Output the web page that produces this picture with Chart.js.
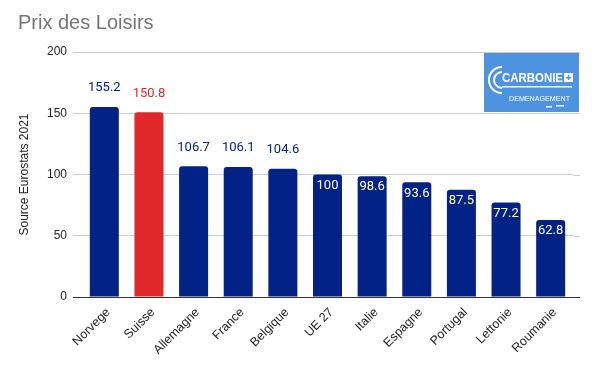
<!DOCTYPE html>
<html>
<head>
<meta charset="utf-8">
<script src="https://cdn.jsdelivr.net/npm/chart.js@4/dist/chart.umd.min.js"></script>
<style>
  html, body { margin: 0; padding: 0; background: #fff; }
  #wrap { width: 596px; height: 365px; position: relative; }
</style>
</head>
<body>
<div id="wrap"><canvas id="chart" width="596" height="365"></canvas></div>
<script>
// Data
const countries = ["Norvege", "Suisse", "Allemagne", "France", "Belgique", "UE 27", "Italie", "Espagne", "Portugal", "Lettonie", "Roumanie"];
const prices = [155.2, 150.8, 106.7, 106.1, 104.6, 100, 98.6, 93.6, 87.5, 77.2, 62.8];
const yTicks = [0, 50, 100, 150, 200];
const highlight = "Suisse";

const BLUE = "#032286";
const RED = "#e0282a";
const barColors = countries.map((c) => (c === highlight ? RED : BLUE));

// Title + logo
const decorPlugin = {
  id: "decor",
  afterDraw(chart) {
    const ctx = chart.ctx;
    ctx.save();
    ctx.fillStyle = "#757575";
    ctx.font = "20px 'Liberation Sans', Arial, sans-serif";
    ctx.textBaseline = "alphabetic";
    ctx.textAlign = "left";
    ctx.fillText("Prix des Loisirs", 18, 29);

    // logo box
    const lx = 484, ly = 53, lw = 95, lh = 59;
    ctx.fillStyle = "#4d93e0";
    ctx.fillRect(lx, ly, lw, lh);
    ctx.strokeStyle = "#fff";
    ctx.lineWidth = 2;
    ctx.beginPath();
    ctx.arc(lx + 18, ly + 27, 13, Math.PI * 0.5, Math.PI * 1.5);
    ctx.stroke();
    ctx.beginPath();
    ctx.arc(lx + 18, ly + 27, 8, Math.PI * 0.5, Math.PI * 1.5);
    ctx.stroke();
    ctx.fillStyle = "#fff";
    ctx.font = "bold 13px 'Liberation Sans', Arial, sans-serif";
    ctx.fillText("CARBONIE", lx + 18, ly + 29, 61);
    ctx.fillRect(lx + 80, ly + 20, 9, 9);
    ctx.fillStyle = "#4d93e0";
    ctx.fillRect(lx + 82, ly + 24, 5, 1.5);
    ctx.fillRect(lx + 83.8, ly + 22, 1.5, 5);
    ctx.fillStyle = "#fff";
    ctx.fillRect(lx + 18, ly + 33, 70, 1.5);
    ctx.font = "8px 'Liberation Sans', Arial, sans-serif";
    ctx.fillText("DEMENAGEMENT", lx + 25, ly + 48, 61);
    ctx.fillRect(lx + 62, ly + 53, 6, 1.5);
    ctx.fillRect(lx + 72, ly + 52, 8, 1.5);
    ctx.restore();
  },
  beforeDatasetsDraw(chart) {
    // extend gridlines slightly past the right edge
    const ctx = chart.ctx;
    const y = chart.scales.y;
    const area = chart.chartArea;
    ctx.save();
    ctx.lineWidth = 1;
    yTicks.forEach((v) => {
      const py = Math.round(y.getPixelForValue(v)) + 0.5;
      ctx.strokeStyle = v === 0 ? "#333" : "#cccccc";
      ctx.beginPath();
      ctx.moveTo(area.right, py);
      ctx.lineTo(area.right + 7, py);
      ctx.stroke();
    });
    ctx.restore();
  },
};

// Value labels
const valueLabels = {
  id: "valueLabels",
  afterDatasetsDraw(chart) {
    const ctx = chart.ctx;
    const meta = chart.getDatasetMeta(0);
    ctx.save();
    ctx.font = "13px Roboto, 'Liberation Sans', sans-serif";
    ctx.textAlign = "center";
    ctx.textBaseline = "middle";
    meta.data.forEach((bar, i) => {
      const v = prices[i];
      const txt = String(v);
      if (v > 100) {
        ctx.fillStyle = barColors[i];
        ctx.fillText(txt, bar.x, bar.y - 19);
      } else {
        ctx.fillStyle = "#ffffff";
        ctx.fillText(txt, bar.x, bar.y + 11);
      }
    });
    ctx.restore();
  },
};

const ctx = document.getElementById("chart").getContext("2d");
const chart = new Chart(ctx, {
  type: "bar",
  data: {
    labels: countries,
    datasets: [
      {
        data: prices,
        backgroundColor: barColors,
        borderRadius: 3,
        borderSkipped: "bottom",
        barPercentage: 0.65,
        categoryPercentage: 1,
      },
    ],
  },
  options: {
    responsive: false,
    animation: false,
    layout: { padding: { left: 0, right: 23, top: 52, bottom: 0 } },
    plugins: {
      legend: { display: false },
      tooltip: { enabled: false },
    },
    scales: {
      x: {
        grid: { display: false, drawTicks: false },
        border: { display: false },
        ticks: {
          color: "#222",
          font: { family: "'Liberation Sans', Arial, sans-serif", size: 12.5 },
          minRotation: 45,
          maxRotation: 45,
          padding: 8,
          labelOffset: 4,
        },
        afterFit(scale) {
          scale.height = 68;
        },
      },
      y: {
        min: 0,
        max: 200,
        afterBuildTicks(scale) {
          scale.ticks = yTicks.map((v) => ({ value: v }));
        },
        grid: {
          color: (c) => (c.tick && c.tick.value === 0 ? "#333" : "#cccccc"),
          tickLength: 9,
        },
        border: { display: false },
        ticks: {
          color: "#222",
          font: { family: "'Liberation Sans', Arial, sans-serif", size: 12 },
          padding: 6,
        },
        title: {
          display: true,
          text: "Source Eurostats 2021",
          color: "#222",
          font: { family: "'Liberation Sans', Arial, sans-serif", size: 12 },
          padding: { top: 17, bottom: 0 },
        },
        afterFit(scale) {
          scale.width = 82;
        },
      },
    },
  },
  plugins: [decorPlugin, valueLabels],
});
</script>
</body>
</html>
